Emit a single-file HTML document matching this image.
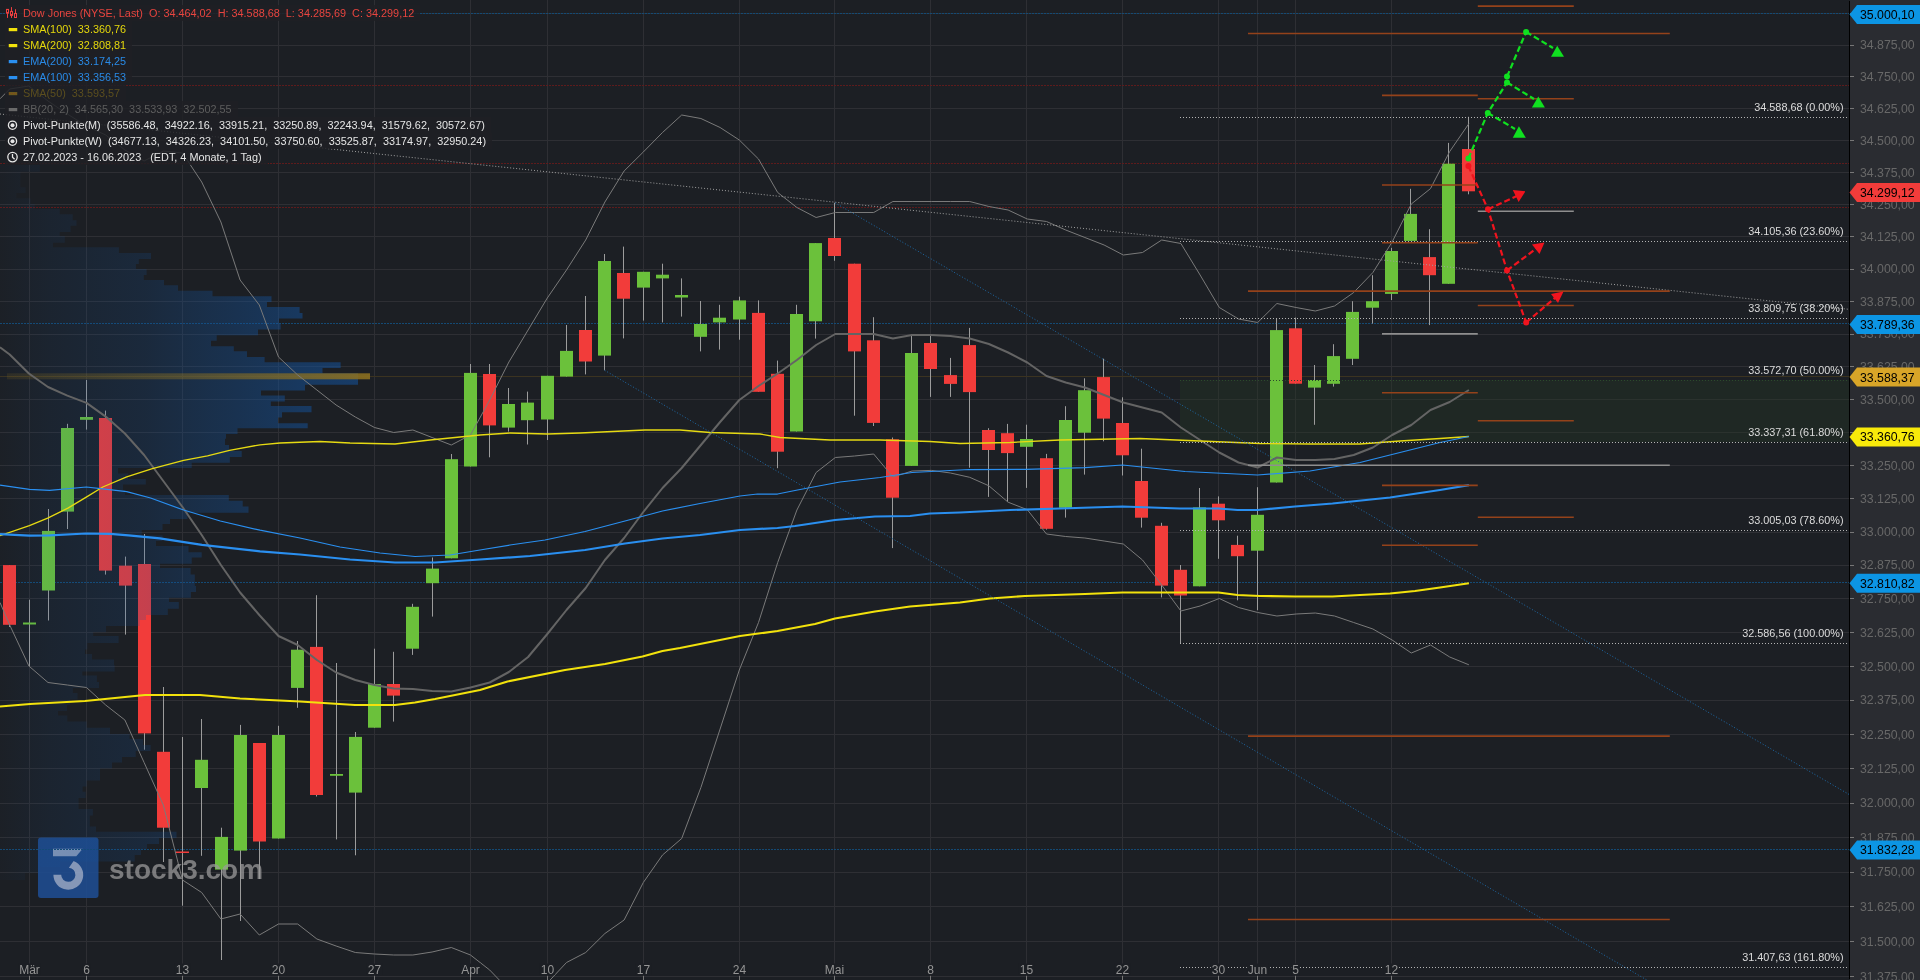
<!DOCTYPE html>
<html><head><meta charset="utf-8"><title>Dow Jones Chart</title>
<style>
html,body{margin:0;padding:0;background:#1c1f24;width:1920px;height:980px;overflow:hidden;}
#wrap{position:relative;width:1920px;height:980px;}
.row{position:absolute;left:5px;will-change:transform;height:16px;line-height:16px;font-family:"Liberation Sans",sans-serif;font-size:10.85px;white-space:pre;background:rgba(30,32,36,0.85);padding:0 6px 0 0;}
.row .ic{display:inline-block;width:18px;height:16px;vertical-align:top;position:relative;}
.row .ic svg{position:absolute;left:1px;top:0px;}
</style></head><body><div id="wrap">
<svg width="1920" height="980" viewBox="0 0 1920 980" style="display:block;position:absolute;left:0;top:0">
<defs>
<linearGradient id="vpg" gradientUnits="userSpaceOnUse" x1="0" y1="0" x2="372" y2="0"><stop offset="0" stop-color="#14529b" stop-opacity="0.02"/><stop offset="0.134" stop-color="#14529b" stop-opacity="0.1"/><stop offset="0.39" stop-color="#14529b" stop-opacity="0.2"/><stop offset="0.51" stop-color="#14529b" stop-opacity="0.29"/><stop offset="0.645" stop-color="#14529b" stop-opacity="0.38"/><stop offset="0.806" stop-color="#14529b" stop-opacity="0.5"/><stop offset="1" stop-color="#14529b" stop-opacity="0.58"/></linearGradient>
<linearGradient id="pocg" gradientUnits="userSpaceOnUse" x1="0" y1="0" x2="372" y2="0"><stop offset="0" stop-color="#8c7020" stop-opacity="0.15"/><stop offset="0.5" stop-color="#8c7020" stop-opacity="0.45"/><stop offset="1" stop-color="#8c7020" stop-opacity="0.9"/></linearGradient>
</defs>
<rect x="0" y="0" width="1920" height="980" fill="#1c1f24"/>
<rect x="1850" y="0" width="70" height="980" fill="#2a2c31"/>
<path d="M0 976.5H1849 M0 941.5H1849 M0 906.5H1849 M0 872.5H1849 M0 837.5H1849 M0 803.5H1849 M0 768.5H1849 M0 734.5H1849 M0 700.5H1849 M0 666.5H1849 M0 632.5H1849 M0 598.5H1849 M0 565.5H1849 M0 532.5H1849 M0 498.5H1849 M0 465.5H1849 M0 432.5H1849 M0 399.5H1849 M0 366.5H1849 M0 334.5H1849 M0 301.5H1849 M0 269.5H1849 M0 236.5H1849 M0 204.5H1849 M0 172.5H1849 M0 140.5H1849 M0 108.5H1849 M0 76.5H1849 M0 45.5H1849 M0 13.5H1849" stroke="#2e2f34" stroke-width="1" fill="none" shape-rendering="crispEdges"/>
<path d="M29.5 0V980 M86.5 0V980 M182.5 0V980 M278.5 0V980 M374.5 0V980 M470.5 0V980 M547.5 0V980 M643.5 0V980 M739.5 0V980 M834.5 0V980 M930.5 0V980 M1026.5 0V980 M1122.5 0V980 M1218.5 0V980 M1257.5 0V980 M1295.5 0V980 M1391.5 0V980" stroke="#2e2f34" stroke-width="1" fill="none" shape-rendering="crispEdges"/>
<rect x="1180" y="380" width="669" height="62" fill="#243a24" fill-opacity="0.35"/>
<g opacity="0.9">
<rect x="38" y="837.5" width="60.5" height="60.5" rx="3" fill="#1f4c8f"/>
<path d="M53 848.8 H82.7 L76.3 856.2 H53 Z" fill="#91a5c8"/>
<path d="M73.6 860.9 A14.9 14.9 0 1 1 53.4 874.8 L61.2 874.8 A7.1 7.1 0 1 0 68.9 867.7 Z" fill="#91a5c8"/>
</g>
<line x1="0" y1="85.5" x2="1849" y2="85.5" stroke="#5e1b1c" stroke-width="1" stroke-dasharray="2 1" shape-rendering="crispEdges"/>
<line x1="0" y1="163.5" x2="1849" y2="163.5" stroke="#5e1b1c" stroke-width="1" stroke-dasharray="2 1" shape-rendering="crispEdges"/>
<line x1="0" y1="207.5" x2="1849" y2="207.5" stroke="#5e1b1c" stroke-width="1" stroke-dasharray="2 1" shape-rendering="crispEdges"/>
<line x1="0" y1="13.5" x2="1849" y2="13.5" stroke="#144a74" stroke-width="1" stroke-dasharray="2 1" shape-rendering="crispEdges"/>
<line x1="0" y1="323.5" x2="1849" y2="323.5" stroke="#144a74" stroke-width="1" stroke-dasharray="2 1" shape-rendering="crispEdges"/>
<line x1="0" y1="582.5" x2="1849" y2="582.5" stroke="#144a74" stroke-width="1" stroke-dasharray="2 1" shape-rendering="crispEdges"/>
<line x1="0" y1="849.5" x2="1849" y2="849.5" stroke="#144a74" stroke-width="1" stroke-dasharray="2 1" shape-rendering="crispEdges"/>
<line x1="0" y1="376.5" x2="1849" y2="376.5" stroke="#3b3320" stroke-width="1" shape-rendering="crispEdges"/>
<path d="M9.5 565.0V627.0 M29.5 599.7V666.0 M48.5 509.0V620.5 M67.5 423.8V529.0 M86.5 380.0V429.6 M105.5 410.6V574.6 M125.5 556.6V634.6 M144.5 534.0V749.7 M163.5 687.0V862.0 M182.5 737.0V905.7 M201.5 719.0V855.8 M221.5 827.7V960.0 M240.5 724.9V921.0 M259.5 743.0V879.0 M278.5 725.8V838.5 M297.5 641.0V707.8 M316.5 595.2V796.5 M336.5 663.0V839.4 M355.5 732.0V855.3 M374.5 648.7V727.7 M393.5 651.8V721.6 M412.5 603.8V654.9 M432.5 557.5V616.6 M451.5 454.0V558.3 M470.5 364.0V466.5 M489.5 364.0V457.3 M508.5 388.0V431.6 M527.5 391.6V444.5 M547.5 375.8V440.0 M566.5 325.0V376.6 M585.5 296.0V374.4 M604.5 254.0V370.3 M623.5 246.6V338.4 M643.5 271.8V320.6 M662.5 263.7V322.4 M681.5 278.4V316.6 M700.5 301.0V351.4 M719.5 304.8V349.6 M739.5 296.7V339.7 M758.5 300.4V391.8 M777.5 360.6V468.2 M796.5 304.8V431.5 M815.5 243.1V338.6 M834.5 202.8V260.8 M854.5 263.7V415.7 M873.5 317.2V426.0 M892.5 437.5V548.1 M911.5 334.5V465.9 M930.5 334.5V396.9 M950.5 357.9V396.9 M969.5 327.9V467.7 M988.5 428.2V496.9 M1007.5 423.9V501.7 M1026.5 424.7V487.9 M1046.5 453.9V529.6 M1065.5 406.2V517.6 M1084.5 378.3V474.6 M1103.5 358.7V441.3 M1122.5 397.3V475.5 M1141.5 448.7V527.6 M1161.5 522.8V597.4 M1180.5 565.0V643.2 M1199.5 488.0V586.3 M1218.5 496.4V558.8 M1237.5 535.7V600.3 M1257.5 487.2V610.2 M1276.5 318.4V482.5 M1295.5 317.6V383.7 M1314.5 365.0V424.8 M1333.5 344.2V386.6 M1352.5 301.2V365.0 M1372.5 275.2V323.6 M1391.5 247.9V300.0 M1410.5 188.8V240.9 M1429.5 229.2V325.1 M1448.5 142.9V283.8 M1468.5 116.8V194.3" stroke="#9c9c9c" stroke-width="1" fill="none"/>
<rect x="3" y="565.1" width="13" height="59.7" fill="#f23c3a"/>
<rect x="23" y="622.5" width="13" height="2.0" fill="#6bc13b"/>
<rect x="42" y="530.9" width="13" height="59.6" fill="#6bc13b"/>
<rect x="61" y="428.0" width="13" height="83.6" fill="#6bc13b"/>
<rect x="80" y="417.0" width="13" height="2.8" fill="#6bc13b"/>
<rect x="99" y="418.0" width="13" height="152.6" fill="#f23c3a"/>
<rect x="119" y="565.7" width="13" height="19.9" fill="#f23c3a"/>
<rect x="138" y="564.0" width="13" height="169.4" fill="#f23c3a"/>
<rect x="157" y="751.8" width="13" height="75.9" fill="#f23c3a"/>
<rect x="176" y="851.5" width="13" height="1.5" fill="#f23c3a"/>
<rect x="195" y="759.8" width="13" height="28.2" fill="#6bc13b"/>
<rect x="215" y="836.9" width="13" height="32.7" fill="#6bc13b"/>
<rect x="234" y="735.0" width="13" height="115.6" fill="#6bc13b"/>
<rect x="253" y="743.0" width="13" height="98.5" fill="#f23c3a"/>
<rect x="272" y="735.0" width="13" height="103.5" fill="#6bc13b"/>
<rect x="291" y="649.7" width="13" height="38.2" fill="#6bc13b"/>
<rect x="310" y="646.9" width="13" height="148.1" fill="#f23c3a"/>
<rect x="330" y="774.0" width="13" height="1.8" fill="#6bc13b"/>
<rect x="349" y="736.9" width="13" height="55.7" fill="#6bc13b"/>
<rect x="368" y="684.0" width="13" height="43.7" fill="#6bc13b"/>
<rect x="387" y="684.0" width="13" height="11.6" fill="#f23c3a"/>
<rect x="406" y="606.8" width="13" height="41.9" fill="#6bc13b"/>
<rect x="426" y="568.6" width="13" height="14.6" fill="#6bc13b"/>
<rect x="445" y="459.2" width="13" height="99.1" fill="#6bc13b"/>
<rect x="464" y="372.9" width="13" height="93.6" fill="#6bc13b"/>
<rect x="483" y="374.0" width="13" height="51.4" fill="#f23c3a"/>
<rect x="502" y="404.0" width="13" height="23.6" fill="#6bc13b"/>
<rect x="521" y="402.6" width="13" height="17.6" fill="#6bc13b"/>
<rect x="541" y="375.8" width="13" height="43.7" fill="#6bc13b"/>
<rect x="560" y="350.9" width="13" height="25.7" fill="#6bc13b"/>
<rect x="579" y="330.0" width="13" height="31.5" fill="#f23c3a"/>
<rect x="598" y="261.0" width="13" height="94.6" fill="#6bc13b"/>
<rect x="617" y="273.0" width="13" height="25.7" fill="#f23c3a"/>
<rect x="637" y="271.8" width="13" height="15.8" fill="#6bc13b"/>
<rect x="656" y="274.7" width="13" height="3.7" fill="#6bc13b"/>
<rect x="675" y="295.0" width="13" height="2.5" fill="#6bc13b"/>
<rect x="694" y="324.0" width="13" height="12.8" fill="#6bc13b"/>
<rect x="713" y="317.7" width="13" height="4.7" fill="#6bc13b"/>
<rect x="733" y="300.4" width="13" height="19.1" fill="#6bc13b"/>
<rect x="752" y="312.9" width="13" height="78.9" fill="#f23c3a"/>
<rect x="771" y="373.8" width="13" height="77.9" fill="#f23c3a"/>
<rect x="790" y="314.0" width="13" height="117.5" fill="#6bc13b"/>
<rect x="809" y="243.1" width="13" height="78.2" fill="#6bc13b"/>
<rect x="828" y="238.0" width="13" height="18.0" fill="#f23c3a"/>
<rect x="848" y="263.7" width="13" height="87.7" fill="#f23c3a"/>
<rect x="867" y="340.3" width="13" height="82.6" fill="#f23c3a"/>
<rect x="886" y="439.3" width="13" height="58.4" fill="#f23c3a"/>
<rect x="905" y="353.0" width="13" height="112.9" fill="#6bc13b"/>
<rect x="924" y="343.0" width="13" height="26.0" fill="#f23c3a"/>
<rect x="944" y="375.1" width="13" height="8.8" fill="#f23c3a"/>
<rect x="963" y="345.1" width="13" height="47.0" fill="#f23c3a"/>
<rect x="982" y="430.0" width="13" height="20.0" fill="#f23c3a"/>
<rect x="1001" y="433.2" width="13" height="19.9" fill="#f23c3a"/>
<rect x="1020" y="439.0" width="13" height="7.8" fill="#6bc13b"/>
<rect x="1040" y="458.2" width="13" height="70.6" fill="#f23c3a"/>
<rect x="1059" y="420.0" width="13" height="87.8" fill="#6bc13b"/>
<rect x="1078" y="390.2" width="13" height="42.5" fill="#6bc13b"/>
<rect x="1097" y="377.1" width="13" height="41.5" fill="#f23c3a"/>
<rect x="1116" y="423.0" width="13" height="32.3" fill="#f23c3a"/>
<rect x="1135" y="481.0" width="13" height="36.7" fill="#f23c3a"/>
<rect x="1155" y="525.8" width="13" height="59.8" fill="#f23c3a"/>
<rect x="1174" y="569.8" width="13" height="25.7" fill="#f23c3a"/>
<rect x="1193" y="507.4" width="13" height="78.9" fill="#6bc13b"/>
<rect x="1212" y="503.7" width="13" height="16.6" fill="#f23c3a"/>
<rect x="1231" y="544.9" width="13" height="11.3" fill="#f23c3a"/>
<rect x="1251" y="514.8" width="13" height="35.9" fill="#6bc13b"/>
<rect x="1270" y="330.1" width="13" height="152.4" fill="#6bc13b"/>
<rect x="1289" y="328.3" width="13" height="55.4" fill="#f23c3a"/>
<rect x="1308" y="380.0" width="13" height="7.6" fill="#6bc13b"/>
<rect x="1327" y="356.1" width="13" height="27.7" fill="#6bc13b"/>
<rect x="1346" y="311.9" width="13" height="46.9" fill="#6bc13b"/>
<rect x="1366" y="301.2" width="13" height="6.5" fill="#6bc13b"/>
<rect x="1385" y="251.0" width="13" height="42.9" fill="#6bc13b"/>
<rect x="1404" y="213.9" width="13" height="27.0" fill="#6bc13b"/>
<rect x="1423" y="257.1" width="13" height="18.1" fill="#f23c3a"/>
<rect x="1442" y="163.7" width="13" height="120.1" fill="#6bc13b"/>
<rect x="1462" y="149.0" width="13" height="42.3" fill="#f23c3a"/>
<path d="M0 165.00H39.8V171.70H0Z M0 171.70H20.4V187.30H0Z M0 187.30H25.5V193.00H0Z M0 193.00H16.3V198.30H0Z M0 198.30H30.6V204.00H0Z M0 204.00H34.7V209.00H0Z M0 209.00H59.7V214.30H0Z M0 214.30H72.7V220.20H0Z M0 220.20H76.5V225.80H0Z M0 225.80H70.6V232.00H0Z M0 232.00H59.7V236.00H0Z M0 236.00H64.8V242.70H0Z M0 242.70H53.0V247.20H0Z M0 247.20H118.9V252.90H0Z M0 252.90H151.0V259.00H0Z M0 259.00H138.8V264.00H0Z M0 264.00H135.9V269.00H0Z M0 269.00H146.6V275.00H0Z M0 275.00H143.8V280.00H0Z M0 280.00H164.0V285.20H0Z M0 285.20H178.0V290.80H0Z M0 290.80H212.5V296.25H0Z M0 296.25H271.5V301.90H0Z M0 301.90H267.0V307.00H0Z M0 307.00H299.6V312.90H0Z M0 312.90H302.5V318.50H0Z M0 318.50H279.0V323.75H0Z M0 323.75H280.6V329.60H0Z M0 329.60H258.0V335.20H0Z M0 335.20H216.7V340.80H0Z M0 340.80H211.0V346.25H0Z M0 346.25H233.8V351.25H0Z M0 351.25H247.0V357.00H0Z M0 357.00H264.6V362.30H0Z M0 362.30H340.6V367.90H0Z M0 367.90H322.5V373.30H0Z M0 373.30H358.0V379.60H0Z M0 379.60H358.0V384.80H0Z M0 384.80H305.0V390.40H0Z M0 390.40H261.0V395.60H0Z M0 395.60H284.8V401.50H0Z M0 401.50H270.8V406.00H0Z M0 406.00H311.5V412.30H0Z M0 412.30H282.0V417.50H0Z M0 417.50H278.0V423.30H0Z M0 423.30H307.7V428.30H0Z M0 428.30H237.5V434.00H0Z M0 434.00H226.0V438.75H0Z M0 438.75H225.0V445.00H0Z M0 445.00H229.0V451.00H0Z M0 451.00H241.7V457.00H0Z M0 457.00H229.8V462.70H0Z M0 462.70H191.7V468.00H0Z M0 468.00H118.0V473.50H0Z M0 473.50H128.0V479.00H0Z M0 479.00H145.8V484.60H0Z M0 484.60H123.0V490.00H0Z M0 490.00H125.0V495.00H0Z M0 495.00H228.8V500.80H0Z M0 500.80H242.7V506.50H0Z M0 506.50H248.5V512.70H0Z M0 512.70H187.5V519.00H0Z M0 519.00H170.0V524.00H0Z M0 524.00H162.5V530.00H0Z M0 530.00H141.7V535.60H0Z M0 535.60H162.5V541.00H0Z M0 541.00H156.0V546.00H0Z M0 546.00H188.5V552.30H0Z M0 552.30H201.7V557.50H0Z M0 557.50H191.7V563.80H0Z M0 563.80H160.0V568.00H0Z M0 568.00H190.6V574.60H0Z M0 574.60H194.8V581.00H0Z M0 581.00H194.8V586.00H0Z M0 586.00H196.0V592.00H0Z M0 592.00H190.9V597.80H0Z M0 597.80H169.0V602.10H0Z M0 602.10H178.8V608.75H0Z M0 608.75H167.8V615.00H0Z M0 615.00H146.0V620.00H0Z M0 620.00H139.7V626.00H0Z M0 626.00H106.0V632.20H0Z M0 632.20H93.2V636.10H0Z M0 636.10H118.6V643.10H0Z M0 643.10H87.3V649.40H0Z M0 649.40H85.0V654.00H0Z M0 654.00H92.0V659.60H0Z M0 659.60H114.0V665.20H0Z M0 665.20H114.6V671.50H0Z M0 671.50H82.3V675.60H0Z M0 675.60H96.9V681.90H0Z M0 681.90H99.0V688.00H0Z M0 688.00H72.9V693.00H0Z M0 693.00H77.5V699.60H0Z M0 699.60H70.0V705.00H0Z M0 705.00H67.0V711.00H0Z M0 711.00H58.0V715.50H0Z M0 715.50H67.3V721.60H0Z M0 721.60H86.7V727.80H0Z M0 727.80H110.0V734.00H0Z M0 734.00H129.6V739.00H0Z M0 739.00H143.0V745.00H0Z M0 745.00H150.6V751.00H0Z M0 751.00H135.7V757.00H0Z M0 757.00H122.0V762.40H0Z M0 762.40H112.0V768.60H0Z M0 768.60H100.0V774.70H0Z M0 774.70H100.0V780.50H0Z M0 780.50H86.7V786.60H0Z M0 786.60H82.6V791.80H0Z M0 791.80H85.7V797.90H0Z M0 797.90H78.6V803.00H0Z M0 803.00H78.6V809.00H0Z M0 809.00H92.9V815.40H0Z M0 815.40H89.8V821.50H0Z M0 821.50H89.8V826.60H0Z M0 826.60H96.0V831.80H0Z M0 831.80H176.5V838.00H0Z M0 838.00H159.0V844.00H0Z M0 844.00H147.0V849.20H0Z M0 849.20H141.0V855.00H0Z M0 855.00H134.7V861.40H0Z M0 861.40H60.0V867.00H0Z M0 867.00H40.0V873.00H0Z M0 873.00H25.0V880.00H0Z" fill="url(#vpg)"/>
<rect x="7" y="373.3" width="363" height="6" fill="url(#pocg)"/>
<polyline points="0.0,98.8 9.7,89.0 28.9,86.0 48.0,101.0 67.3,114.0 86.5,126.0 105.7,135.0 124.9,150.0 144.1,161.0 163.3,151.0 182.5,153.0 201.7,182.0 220.9,222.0 240.1,280.0 259.3,305.0 278.5,357.0 297.7,375.0 316.9,390.0 336.1,405.0 355.3,417.0 374.5,427.5 393.7,432.5 412.9,430.0 432.1,437.5 451.3,445.0 470.5,435.0 489.7,400.0 508.9,362.0 528.1,330.0 547.3,298.0 566.5,270.0 585.7,240.0 604.9,202.0 624.1,171.0 643.3,152.0 662.5,132.5 681.7,115.0 700.9,118.5 720.1,127.5 739.3,140.0 758.5,159.0 777.7,192.5 796.9,207.5 816.1,217.5 835.3,212.5 854.5,212.5 873.7,212.5 892.9,201.5 912.1,201.5 931.3,201.5 950.5,201.5 969.7,201.5 988.9,206.5 1008.1,210.0 1027.3,219.0 1046.5,221.5 1065.7,230.0 1084.9,237.5 1104.1,245.0 1123.3,255.0 1142.5,252.5 1161.7,240.0 1180.9,243.5 1200.1,275.0 1219.3,307.5 1238.5,319.0 1257.7,322.5 1276.9,303.5 1296.1,307.5 1315.3,311.0 1334.5,306.0 1353.7,292.5 1372.9,272.5 1392.1,242.0 1411.3,204.0 1430.5,188.6 1449.7,151.5 1468.9,123.6" fill="none" stroke="#7a7a7a" stroke-width="1" stroke-linejoin="round"/>
<polyline points="0.0,602.5 9.7,625.0 28.9,666.0 48.0,682.5 67.3,685.0 86.5,687.5 105.7,705.0 124.9,720.0 144.1,762.5 163.3,805.0 182.5,880.0 201.7,892.5 220.9,919.0 240.1,914.0 259.3,935.0 278.5,924.0 297.7,924.0 316.9,939.0 336.1,946.0 355.3,952.5 374.5,954.0 393.7,955.0 412.9,955.0 432.1,952.0 451.3,947.5 470.5,955.0 489.7,970.0 508.9,990.0 528.1,1000.0 547.3,983.0 566.5,962.5 585.7,952.5 604.9,933.5 624.1,920.0 643.3,882.5 662.5,855.0 681.7,838.5 700.9,787.5 720.1,729.0 739.3,670.0 758.5,622.5 777.7,562.5 796.9,510.0 816.1,472.5 835.3,457.5 854.5,456.0 873.7,454.0 892.9,477.0 912.1,471.0 931.3,470.4 950.5,473.0 969.7,477.3 988.9,485.8 1008.1,502.2 1027.3,509.7 1046.5,534.0 1065.7,536.5 1084.9,538.0 1104.1,541.0 1123.3,544.0 1142.5,560.0 1161.7,585.0 1180.9,611.0 1200.1,606.0 1219.3,598.5 1238.5,607.5 1257.7,612.5 1276.9,616.0 1296.1,614.0 1315.3,613.0 1334.5,616.0 1353.7,622.5 1372.9,629.0 1392.1,640.0 1411.3,653.0 1430.5,645.0 1449.7,657.0 1468.9,664.8" fill="none" stroke="#7a7a7a" stroke-width="1" stroke-linejoin="round"/>
<polyline points="0.0,347.3 9.7,354.5 28.9,373.5 48.0,387.0 67.3,395.6 86.5,402.9 105.7,416.6 124.9,433.5 144.1,455.0 163.3,481.0 182.5,507.0 201.7,535.0 220.9,565.0 240.1,592.5 259.3,615.0 278.5,636.0 297.7,645.0 316.9,660.0 336.1,672.5 355.3,680.0 374.5,685.0 393.7,688.5 412.9,689.0 432.1,691.0 451.3,691.5 470.5,687.5 489.7,682.5 508.9,672.0 528.1,657.0 547.3,634.0 566.5,610.0 585.7,588.0 604.9,560.0 624.1,538.0 643.3,512.0 662.5,488.0 681.7,468.0 700.9,445.0 720.1,422.0 739.3,400.0 758.5,386.0 777.7,373.5 796.9,360.0 816.1,345.0 835.3,334.0 854.5,334.0 873.7,334.0 892.9,338.5 912.1,335.0 931.3,335.0 950.5,336.0 969.7,338.5 988.9,344.0 1008.1,352.5 1027.3,362.5 1046.5,376.0 1065.7,382.5 1084.9,387.5 1104.1,395.0 1123.3,402.5 1142.5,407.5 1161.7,412.5 1180.9,427.5 1200.1,440.0 1219.3,452.5 1238.5,462.5 1257.7,467.5 1276.9,457.5 1296.1,460.0 1315.3,460.0 1334.5,459.0 1353.7,455.0 1372.9,447.5 1392.1,435.0 1411.3,425.0 1430.5,410.0 1449.7,402.0 1468.9,390.0" fill="none" stroke="#646464" stroke-width="2" stroke-linejoin="round"/>
<polyline points="0.0,706.5 30.0,704.0 85.0,701.0 145.0,695.0 200.0,695.0 240.0,698.5 300.0,701.5 355.0,705.0 395.0,705.0 415.0,702.5 435.0,699.0 480.0,690.0 507.5,681.5 565.0,670.0 605.0,664.0 642.5,656.5 662.5,651.0 680.0,648.0 720.0,640.0 740.0,636.0 777.5,631.0 815.0,624.0 835.0,618.5 875.0,611.5 910.0,606.5 960.0,602.5 990.0,598.5 1025.0,596.0 1085.0,594.0 1122.5,592.5 1180.0,592.5 1218.5,592.5 1237.5,595.0 1260.0,596.0 1295.0,596.5 1332.5,596.5 1360.0,595.0 1390.0,593.5 1415.0,591.0 1440.0,587.5 1468.9,583.3" fill="none" stroke="#f2e20c" stroke-width="2.1" stroke-linejoin="round"/>
<polyline points="0.0,535.7 29.4,525.6 47.7,518.2 67.9,508.1 86.3,497.1 102.8,487.0 126.7,476.9 152.4,468.7 183.6,460.4 207.5,455.8 229.5,450.3 260.0,444.8 280.0,443.0 320.0,441.5 350.0,443.0 395.0,444.0 430.0,440.0 480.0,435.0 510.0,433.0 547.5,434.0 580.0,433.0 645.0,430.0 680.0,430.0 710.0,432.5 760.0,434.0 780.0,437.5 830.0,440.0 880.0,440.0 930.0,441.5 960.0,443.5 1010.0,442.5 1060.0,440.0 1140.0,438.5 1200.0,441.0 1260.0,443.5 1310.0,444.0 1360.0,444.0 1400.0,441.0 1440.0,438.5 1468.9,436.5" fill="none" stroke="#e6da12" stroke-width="1.3" stroke-linejoin="round"/>
<polyline points="0.0,534.2 29.4,535.7 49.6,535.3 86.3,533.5 110.2,533.8 128.5,535.3 159.8,538.4 202.0,544.9 260.0,551.3 300.0,554.5 350.0,559.5 395.0,562.5 435.0,562.5 480.0,559.5 530.0,556.0 585.0,550.0 625.0,543.5 662.5,538.5 700.0,535.0 740.0,530.0 777.5,528.0 795.0,526.0 835.0,520.0 875.0,516.5 910.0,516.0 930.0,513.5 960.0,512.5 1010.0,510.0 1060.0,508.5 1122.5,506.5 1180.0,508.5 1218.5,508.5 1237.5,510.0 1257.5,510.0 1295.0,506.5 1332.5,503.5 1390.0,497.5 1440.0,490.0 1468.9,485.2" fill="none" stroke="#2a8ff0" stroke-width="2.2" stroke-linejoin="round"/>
<polyline points="0.0,485.2 29.4,489.4 49.6,490.3 86.3,487.0 102.8,488.9 126.7,491.6 150.6,498.0 183.6,510.0 220.3,521.0 260.0,530.2 300.0,538.0 340.0,547.0 380.0,553.0 415.0,556.5 450.0,555.0 480.0,550.0 510.0,545.0 545.0,540.0 585.0,531.5 625.0,521.0 662.5,511.0 700.0,503.5 740.0,496.0 757.5,494.0 777.5,494.0 797.5,490.0 840.0,482.0 880.0,477.5 912.0,472.5 969.0,469.5 1026.0,469.3 1085.0,467.7 1122.5,465.0 1185.0,471.5 1257.5,475.0 1310.0,471.0 1360.0,462.5 1400.0,452.5 1440.0,442.5 1468.9,436.5" fill="none" stroke="#2a8ff0" stroke-width="1.25" stroke-linejoin="round"/>
<line x1="0" y1="114" x2="1849" y2="309.3" stroke="#a0a0a0" stroke-width="1" stroke-dasharray="1 2"/>
<line x1="604.6" y1="370.3" x2="1646.8" y2="980" stroke="#1d6aa8" stroke-width="1" stroke-dasharray="1 2"/>
<line x1="835" y1="202.8" x2="1849" y2="794.4" stroke="#1d6aa8" stroke-width="1" stroke-dasharray="1 2"/>
<line x1="1248" y1="33.45" x2="1669.8" y2="33.45" stroke="#94421a" stroke-width="1.6"/>
<line x1="1248" y1="291.1" x2="1669.8" y2="291.1" stroke="#94421a" stroke-width="1.6"/>
<line x1="1248" y1="465.3" x2="1669.8" y2="465.3" stroke="#8e8e8e" stroke-width="1.6"/>
<line x1="1248" y1="736.1" x2="1669.8" y2="736.1" stroke="#94421a" stroke-width="1.6"/>
<line x1="1248" y1="919.45" x2="1669.8" y2="919.45" stroke="#94421a" stroke-width="1.6"/>
<line x1="1382" y1="95.4" x2="1477.8" y2="95.4" stroke="#94421a" stroke-width="1.6"/>
<line x1="1382" y1="185.0" x2="1477.8" y2="185.0" stroke="#94421a" stroke-width="1.6"/>
<line x1="1382" y1="242.8" x2="1477.8" y2="242.8" stroke="#94421a" stroke-width="1.6"/>
<line x1="1382" y1="333.9" x2="1477.8" y2="333.9" stroke="#8e8e8e" stroke-width="1.6"/>
<line x1="1382" y1="392.8" x2="1477.8" y2="392.8" stroke="#94421a" stroke-width="1.6"/>
<line x1="1382" y1="485.4" x2="1477.8" y2="485.4" stroke="#94421a" stroke-width="1.6"/>
<line x1="1382" y1="545.3" x2="1477.8" y2="545.3" stroke="#94421a" stroke-width="1.6"/>
<line x1="1477.8" y1="6.1" x2="1573.8" y2="6.1" stroke="#94421a" stroke-width="1.6"/>
<line x1="1477.8" y1="98.7" x2="1573.8" y2="98.7" stroke="#94421a" stroke-width="1.6"/>
<line x1="1477.8" y1="211.2" x2="1573.8" y2="211.2" stroke="#8e8e8e" stroke-width="1.6"/>
<line x1="1477.8" y1="305.5" x2="1573.8" y2="305.5" stroke="#94421a" stroke-width="1.6"/>
<line x1="1477.8" y1="420.75" x2="1573.8" y2="420.75" stroke="#94421a" stroke-width="1.6"/>
<line x1="1477.8" y1="517.2" x2="1573.8" y2="517.2" stroke="#94421a" stroke-width="1.6"/>
<line x1="1180" y1="117.5" x2="1849" y2="117.5" stroke="#b4b4b4" stroke-width="1" stroke-dasharray="1 2" shape-rendering="crispEdges"/>
<line x1="1180" y1="241.5" x2="1849" y2="241.5" stroke="#b4b4b4" stroke-width="1" stroke-dasharray="1 2" shape-rendering="crispEdges"/>
<line x1="1180" y1="318.5" x2="1849" y2="318.5" stroke="#b4b4b4" stroke-width="1" stroke-dasharray="1 2" shape-rendering="crispEdges"/>
<line x1="1180" y1="380.5" x2="1849" y2="380.5" stroke="#2c4a2c" stroke-width="1" stroke-dasharray="1 2" shape-rendering="crispEdges"/>
<line x1="1180" y1="442.5" x2="1849" y2="442.5" stroke="#b4b4b4" stroke-width="1" stroke-dasharray="1 2" shape-rendering="crispEdges"/>
<line x1="1180" y1="530.5" x2="1849" y2="530.5" stroke="#b4b4b4" stroke-width="1" stroke-dasharray="1 2" shape-rendering="crispEdges"/>
<line x1="1180" y1="643.5" x2="1849" y2="643.5" stroke="#b4b4b4" stroke-width="1" stroke-dasharray="1 2" shape-rendering="crispEdges"/>
<line x1="1180" y1="967.5" x2="1849" y2="967.5" stroke="#b4b4b4" stroke-width="1" stroke-dasharray="1 2" shape-rendering="crispEdges"/>
<polyline points="1468.4,158.5 1487.8,112.9 1507.0,82.4" fill="none" stroke="#10e020" stroke-width="2.2" stroke-dasharray="6 3"/>
<polyline points="1507.0,76.6 1526.1,31.9" fill="none" stroke="#10e020" stroke-width="2.2" stroke-dasharray="6 3"/>
<polyline points="1487.8,112.9 1515.0,129.0" fill="none" stroke="#10e020" stroke-width="2.2" stroke-dasharray="6 3"/>
<polyline points="1507.0,82.4 1534.0,99.0" fill="none" stroke="#10e020" stroke-width="2.2" stroke-dasharray="6 3"/>
<polyline points="1526.1,31.9 1553.0,48.0" fill="none" stroke="#10e020" stroke-width="2.2" stroke-dasharray="6 3"/>
<circle cx="1468.4" cy="158.5" r="3" fill="#10e020"/>
<circle cx="1487.8" cy="112.9" r="3" fill="#10e020"/>
<circle cx="1507" cy="82.4" r="3" fill="#10e020"/>
<circle cx="1507" cy="76.6" r="3" fill="#10e020"/>
<circle cx="1526.1" cy="31.9" r="3" fill="#10e020"/>
<polygon points="1518.9,126.3 1512.8,137.8 1525.8,137.8" fill="#10e020"/>
<polygon points="1538.3,96.5 1531.9,107.5 1544.9,107.5" fill="#10e020"/>
<polygon points="1557.2,45.7 1551.0,56.7 1564.0,56.7" fill="#10e020"/>
<polyline points="1468.4,166.1 1488.0,209.3 1507.0,270.5 1526.2,322.5" fill="none" stroke="#f0141e" stroke-width="2.2" stroke-dasharray="6 3"/>
<polyline points="1488.0,209.3 1519.0,195.0" fill="none" stroke="#f0141e" stroke-width="2.2" stroke-dasharray="6 3"/>
<polyline points="1507.0,270.5 1537.0,248.0" fill="none" stroke="#f0141e" stroke-width="2.2" stroke-dasharray="6 3"/>
<polyline points="1526.2,322.5 1556.0,297.0" fill="none" stroke="#f0141e" stroke-width="2.2" stroke-dasharray="6 3"/>
<circle cx="1468.4" cy="166.1" r="3" fill="#f0141e"/>
<circle cx="1488" cy="209.3" r="3" fill="#f0141e"/>
<circle cx="1507" cy="270.5" r="3" fill="#f0141e"/>
<circle cx="1526.2" cy="322.5" r="3" fill="#f0141e"/>
<polygon points="1512.8,190.0 1525.5,191.3 1518.6,202.0" fill="#f0141e"/>
<polygon points="1532.0,244.5 1544.5,242.5 1539.5,254.0" fill="#f0141e"/>
<polygon points="1551.0,294.0 1563.5,291.5 1558.0,303.0" fill="#f0141e"/>
<rect x="18.1" y="963.5" width="22.7" height="11.5" fill="#1c1f24"/>
<line x1="29.5" y1="976" x2="29.5" y2="980" stroke="#777" stroke-width="1" shape-rendering="crispEdges"/>
<rect x="82.2" y="963.5" width="8.7" height="11.5" fill="#1c1f24"/>
<line x1="86.5" y1="976" x2="86.5" y2="980" stroke="#777" stroke-width="1" shape-rendering="crispEdges"/>
<rect x="174.8" y="963.5" width="15.3" height="11.5" fill="#1c1f24"/>
<line x1="182.5" y1="976" x2="182.5" y2="980" stroke="#777" stroke-width="1" shape-rendering="crispEdges"/>
<rect x="270.8" y="963.5" width="15.3" height="11.5" fill="#1c1f24"/>
<line x1="278.5" y1="976" x2="278.5" y2="980" stroke="#777" stroke-width="1" shape-rendering="crispEdges"/>
<rect x="366.8" y="963.5" width="15.3" height="11.5" fill="#1c1f24"/>
<line x1="374.5" y1="976" x2="374.5" y2="980" stroke="#777" stroke-width="1" shape-rendering="crispEdges"/>
<rect x="460.1" y="963.5" width="20.7" height="11.5" fill="#1c1f24"/>
<line x1="470.5" y1="976" x2="470.5" y2="980" stroke="#777" stroke-width="1" shape-rendering="crispEdges"/>
<rect x="539.8" y="963.5" width="15.3" height="11.5" fill="#1c1f24"/>
<line x1="547.5" y1="976" x2="547.5" y2="980" stroke="#777" stroke-width="1" shape-rendering="crispEdges"/>
<rect x="635.8" y="963.5" width="15.3" height="11.5" fill="#1c1f24"/>
<line x1="643.5" y1="976" x2="643.5" y2="980" stroke="#777" stroke-width="1" shape-rendering="crispEdges"/>
<rect x="731.8" y="963.5" width="15.3" height="11.5" fill="#1c1f24"/>
<line x1="739.5" y1="976" x2="739.5" y2="980" stroke="#777" stroke-width="1" shape-rendering="crispEdges"/>
<rect x="823.9" y="963.5" width="21.3" height="11.5" fill="#1c1f24"/>
<line x1="834.5" y1="976" x2="834.5" y2="980" stroke="#777" stroke-width="1" shape-rendering="crispEdges"/>
<rect x="926.2" y="963.5" width="8.7" height="11.5" fill="#1c1f24"/>
<line x1="930.5" y1="976" x2="930.5" y2="980" stroke="#777" stroke-width="1" shape-rendering="crispEdges"/>
<rect x="1018.8" y="963.5" width="15.3" height="11.5" fill="#1c1f24"/>
<line x1="1026.5" y1="976" x2="1026.5" y2="980" stroke="#777" stroke-width="1" shape-rendering="crispEdges"/>
<rect x="1114.8" y="963.5" width="15.3" height="11.5" fill="#1c1f24"/>
<line x1="1122.5" y1="976" x2="1122.5" y2="980" stroke="#777" stroke-width="1" shape-rendering="crispEdges"/>
<rect x="1210.8" y="963.5" width="15.3" height="11.5" fill="#1c1f24"/>
<line x1="1218.5" y1="976" x2="1218.5" y2="980" stroke="#777" stroke-width="1" shape-rendering="crispEdges"/>
<rect x="1246.8" y="963.5" width="21.3" height="11.5" fill="#1c1f24"/>
<line x1="1257.5" y1="976" x2="1257.5" y2="980" stroke="#777" stroke-width="1" shape-rendering="crispEdges"/>
<rect x="1291.2" y="963.5" width="8.7" height="11.5" fill="#1c1f24"/>
<line x1="1295.5" y1="976" x2="1295.5" y2="980" stroke="#777" stroke-width="1" shape-rendering="crispEdges"/>
<rect x="1383.8" y="963.5" width="15.3" height="11.5" fill="#1c1f24"/>
<line x1="1391.5" y1="976" x2="1391.5" y2="980" stroke="#777" stroke-width="1" shape-rendering="crispEdges"/>
<line x1="1849.5" y1="1" x2="1849.5" y2="979" stroke="#000" stroke-width="1" shape-rendering="crispEdges"/>
<path d="M1850 976.5H1854 M1850 941.5H1854 M1850 906.5H1854 M1850 872.5H1854 M1850 837.5H1854 M1850 803.5H1854 M1850 768.5H1854 M1850 734.5H1854 M1850 700.5H1854 M1850 666.5H1854 M1850 632.5H1854 M1850 598.5H1854 M1850 565.5H1854 M1850 532.5H1854 M1850 498.5H1854 M1850 465.5H1854 M1850 432.5H1854 M1850 399.5H1854 M1850 366.5H1854 M1850 334.5H1854 M1850 301.5H1854 M1850 269.5H1854 M1850 236.5H1854 M1850 204.5H1854 M1850 172.5H1854 M1850 140.5H1854 M1850 108.5H1854 M1850 76.5H1854 M1850 45.5H1854 M1850 13.5H1854" stroke="#777" stroke-width="1" shape-rendering="crispEdges"/>
</svg>
<svg width="1920" height="980" viewBox="0 0 1920 980" style="display:block;position:absolute;left:0;top:0;will-change:transform"><text x="1843.5" y="110.7" text-anchor="end" font-family="Liberation Sans" font-size="10.85" fill="#dcdcdc">34.588,68 (0.00%)</text>
<text x="1843.5" y="234.7" text-anchor="end" font-family="Liberation Sans" font-size="10.85" fill="#dcdcdc">34.105,36 (23.60%)</text>
<text x="1843.5" y="311.7" text-anchor="end" font-family="Liberation Sans" font-size="10.85" fill="#dcdcdc">33.809,75 (38.20%)</text>
<text x="1843.5" y="373.7" text-anchor="end" font-family="Liberation Sans" font-size="10.85" fill="#dcdcdc">33.572,70 (50.00%)</text>
<text x="1843.5" y="435.7" text-anchor="end" font-family="Liberation Sans" font-size="10.85" fill="#dcdcdc">33.337,31 (61.80%)</text>
<text x="1843.5" y="523.7" text-anchor="end" font-family="Liberation Sans" font-size="10.85" fill="#dcdcdc">33.005,03 (78.60%)</text>
<text x="1843.5" y="636.7" text-anchor="end" font-family="Liberation Sans" font-size="10.85" fill="#dcdcdc">32.586,56 (100.00%)</text>
<text x="1843.5" y="960.7" text-anchor="end" font-family="Liberation Sans" font-size="10.85" fill="#dcdcdc">31.407,63 (161.80%)</text>
<text x="29.5" y="973.6" text-anchor="middle" font-family="Liberation Sans" font-size="12" fill="#959595">Mär</text>
<text x="86.5" y="973.6" text-anchor="middle" font-family="Liberation Sans" font-size="12" fill="#959595">6</text>
<text x="182.5" y="973.6" text-anchor="middle" font-family="Liberation Sans" font-size="12" fill="#959595">13</text>
<text x="278.5" y="973.6" text-anchor="middle" font-family="Liberation Sans" font-size="12" fill="#959595">20</text>
<text x="374.5" y="973.6" text-anchor="middle" font-family="Liberation Sans" font-size="12" fill="#959595">27</text>
<text x="470.5" y="973.6" text-anchor="middle" font-family="Liberation Sans" font-size="12" fill="#959595">Apr</text>
<text x="547.5" y="973.6" text-anchor="middle" font-family="Liberation Sans" font-size="12" fill="#959595">10</text>
<text x="643.5" y="973.6" text-anchor="middle" font-family="Liberation Sans" font-size="12" fill="#959595">17</text>
<text x="739.5" y="973.6" text-anchor="middle" font-family="Liberation Sans" font-size="12" fill="#959595">24</text>
<text x="834.5" y="973.6" text-anchor="middle" font-family="Liberation Sans" font-size="12" fill="#959595">Mai</text>
<text x="930.5" y="973.6" text-anchor="middle" font-family="Liberation Sans" font-size="12" fill="#959595">8</text>
<text x="1026.5" y="973.6" text-anchor="middle" font-family="Liberation Sans" font-size="12" fill="#959595">15</text>
<text x="1122.5" y="973.6" text-anchor="middle" font-family="Liberation Sans" font-size="12" fill="#959595">22</text>
<text x="1218.5" y="973.6" text-anchor="middle" font-family="Liberation Sans" font-size="12" fill="#959595">30</text>
<text x="1257.5" y="973.6" text-anchor="middle" font-family="Liberation Sans" font-size="12" fill="#959595">Jun</text>
<text x="1295.5" y="973.6" text-anchor="middle" font-family="Liberation Sans" font-size="12" fill="#959595">5</text>
<text x="1391.5" y="973.6" text-anchor="middle" font-family="Liberation Sans" font-size="12" fill="#959595">12</text>
<text x="1860" y="980.7" font-family="Liberation Sans" font-size="12.3" fill="#686868">31.375,00</text>
<text x="1860" y="945.7" font-family="Liberation Sans" font-size="12.3" fill="#686868">31.500,00</text>
<text x="1860" y="910.8" font-family="Liberation Sans" font-size="12.3" fill="#686868">31.625,00</text>
<text x="1860" y="876.1" font-family="Liberation Sans" font-size="12.3" fill="#686868">31.750,00</text>
<text x="1860" y="841.5" font-family="Liberation Sans" font-size="12.3" fill="#686868">31.875,00</text>
<text x="1860" y="807.0" font-family="Liberation Sans" font-size="12.3" fill="#686868">32.000,00</text>
<text x="1860" y="772.7" font-family="Liberation Sans" font-size="12.3" fill="#686868">32.125,00</text>
<text x="1860" y="738.5" font-family="Liberation Sans" font-size="12.3" fill="#686868">32.250,00</text>
<text x="1860" y="704.4" font-family="Liberation Sans" font-size="12.3" fill="#686868">32.375,00</text>
<text x="1860" y="670.5" font-family="Liberation Sans" font-size="12.3" fill="#686868">32.500,00</text>
<text x="1860" y="636.7" font-family="Liberation Sans" font-size="12.3" fill="#686868">32.625,00</text>
<text x="1860" y="603.0" font-family="Liberation Sans" font-size="12.3" fill="#686868">32.750,00</text>
<text x="1860" y="569.4" font-family="Liberation Sans" font-size="12.3" fill="#686868">32.875,00</text>
<text x="1860" y="536.0" font-family="Liberation Sans" font-size="12.3" fill="#686868">33.000,00</text>
<text x="1860" y="502.7" font-family="Liberation Sans" font-size="12.3" fill="#686868">33.125,00</text>
<text x="1860" y="469.5" font-family="Liberation Sans" font-size="12.3" fill="#686868">33.250,00</text>
<text x="1860" y="436.5" font-family="Liberation Sans" font-size="12.3" fill="#686868">33.375,00</text>
<text x="1860" y="403.6" font-family="Liberation Sans" font-size="12.3" fill="#686868">33.500,00</text>
<text x="1860" y="370.8" font-family="Liberation Sans" font-size="12.3" fill="#686868">33.625,00</text>
<text x="1860" y="338.1" font-family="Liberation Sans" font-size="12.3" fill="#686868">33.750,00</text>
<text x="1860" y="305.6" font-family="Liberation Sans" font-size="12.3" fill="#686868">33.875,00</text>
<text x="1860" y="273.1" font-family="Liberation Sans" font-size="12.3" fill="#686868">34.000,00</text>
<text x="1860" y="240.8" font-family="Liberation Sans" font-size="12.3" fill="#686868">34.125,00</text>
<text x="1860" y="208.6" font-family="Liberation Sans" font-size="12.3" fill="#686868">34.250,00</text>
<text x="1860" y="176.5" font-family="Liberation Sans" font-size="12.3" fill="#686868">34.375,00</text>
<text x="1860" y="144.6" font-family="Liberation Sans" font-size="12.3" fill="#686868">34.500,00</text>
<text x="1860" y="112.7" font-family="Liberation Sans" font-size="12.3" fill="#686868">34.625,00</text>
<text x="1860" y="81.0" font-family="Liberation Sans" font-size="12.3" fill="#686868">34.750,00</text>
<text x="1860" y="49.4" font-family="Liberation Sans" font-size="12.3" fill="#686868">34.875,00</text>
<text x="1860" y="17.8" font-family="Liberation Sans" font-size="12.3" fill="#686868">35.000,00</text>
<path d="M1849.5 14.4 L1857 4.9 H1920 V23.9 H1857 Z" fill="#0c95e4"/>
<text x="1860" y="18.9" font-family="Liberation Sans" font-size="12.3" fill="#000">35.000,10</text>
<path d="M1849.5 192.6 L1857 183.1 H1920 V202.1 H1857 Z" fill="#f23c3a"/>
<text x="1860" y="197.1" font-family="Liberation Sans" font-size="12.3" fill="#000">34.299,12</text>
<path d="M1849.5 324.4 L1857 314.9 H1920 V333.9 H1857 Z" fill="#0c95e4"/>
<text x="1860" y="328.9" font-family="Liberation Sans" font-size="12.3" fill="#000">33.789,36</text>
<path d="M1849.5 377.0 L1857 367.5 H1920 V386.5 H1857 Z" fill="#d8a528"/>
<text x="1860" y="381.5" font-family="Liberation Sans" font-size="12.3" fill="#000">33.588,37</text>
<path d="M1849.5 436.9 L1857 427.4 H1920 V446.4 H1857 Z" fill="#f8ea0a"/>
<text x="1860" y="441.4" font-family="Liberation Sans" font-size="12.3" fill="#000">33.360,76</text>
<path d="M1849.5 583.2 L1857 573.7 H1920 V592.7 H1857 Z" fill="#0c95e4"/>
<text x="1860" y="587.7" font-family="Liberation Sans" font-size="12.3" fill="#000">32.810,82</text>
<path d="M1849.5 849.9 L1857 840.4 H1920 V859.4 H1857 Z" fill="#0c95e4"/>
<text x="1860" y="854.4" font-family="Liberation Sans" font-size="12.3" fill="#000">31.832,28</text>
<text x="109" y="878.6" font-family="Liberation Sans" font-weight="bold" font-size="28" fill="#9a9a9a" fill-opacity="0.75">stock3.com</text></svg>
<div class="row" style="top:5px;color:#e8453f"><span class="ic"><svg width="14" height="16" viewBox="0 0 14 16"><g stroke="#f04040" stroke-width="1" fill="none"><rect x="0.5" y="4.4" width="2" height="3.75"/><path d="M1.5 8.15V12.9"/><path d="M5.5 2.1V6.4"/><rect x="4.5" y="6.4" width="2" height="4"/><path d="M5.5 10.4V12.9"/><path d="M9.5 4.2V8.5"/><rect x="8.5" y="8.5" width="2" height="4"/></g></svg></span><span class="tx">Dow Jones (NYSE, Last)  O: 34.464,02  H: 34.588,68  L: 34.285,69  C: 34.299,12</span></div>
<div class="row" style="top:21px;color:#e6d80c"><span class="ic"><svg width="14" height="16" viewBox="0 0 14 16"><rect x="2.75" y="7" width="8.5" height="3.2" fill="#f2e20c"/></svg></span><span class="tx">SMA(100)  33.360,76</span></div>
<div class="row" style="top:37px;color:#e6d80c"><span class="ic"><svg width="14" height="16" viewBox="0 0 14 16"><rect x="2.75" y="7" width="8.5" height="3.2" fill="#f2e20c"/></svg></span><span class="tx">SMA(200)  32.808,81</span></div>
<div class="row" style="top:53px;color:#2a8ae6"><span class="ic"><svg width="14" height="16" viewBox="0 0 14 16"><rect x="2.75" y="7" width="8.5" height="3.2" fill="#2a8ff0"/></svg></span><span class="tx">EMA(200)  33.174,25</span></div>
<div class="row" style="top:69px;color:#2a8ae6"><span class="ic"><svg width="14" height="16" viewBox="0 0 14 16"><rect x="2.75" y="7" width="8.5" height="3.2" fill="#2a8ff0"/></svg></span><span class="tx">EMA(100)  33.356,53</span></div>
<div class="row" style="top:85px;color:#5c4f1f"><span class="ic"><svg width="14" height="16" viewBox="0 0 14 16"><rect x="2.75" y="7" width="8.5" height="3.2" fill="#6b5a1e"/><path d="M3 8.6H11" stroke="#8a4a1a" stroke-width="1" stroke-dasharray="1 1"/></svg></span><span class="tx">SMA(50)  33.593,57</span></div>
<div class="row" style="top:101px;color:#5e5e5e"><span class="ic"><svg width="14" height="16" viewBox="0 0 14 16"><rect x="2.75" y="7" width="8.5" height="3.2" fill="#6a6a6a"/></svg></span><span class="tx">BB(20, 2)  34.565,30  33.533,93  32.502,55</span></div>
<div class="row" style="top:117px;color:#e6e6e6"><span class="ic"><svg width="14" height="16" viewBox="0 0 14 16"><circle cx="6.5" cy="8.2" r="4.1" fill="none" stroke="#e6e6e6" stroke-width="1.3"/><circle cx="6.5" cy="8.2" r="2" fill="#e6e6e6"/></svg></span><span class="tx">Pivot-Punkte(M)  (35586.48,  34922.16,  33915.21,  33250.89,  32243.94,  31579.62,  30572.67)</span></div>
<div class="row" style="top:133px;color:#e6e6e6"><span class="ic"><svg width="14" height="16" viewBox="0 0 14 16"><circle cx="6.5" cy="8.2" r="4.1" fill="none" stroke="#e6e6e6" stroke-width="1.3"/><circle cx="6.5" cy="8.2" r="2" fill="#e6e6e6"/></svg></span><span class="tx">Pivot-Punkte(W)  (34677.13,  34326.23,  34101.50,  33750.60,  33525.87,  33174.97,  32950.24)</span></div>
<div class="row" style="top:149px;color:#e6e6e6"><span class="ic"><svg width="14" height="16" viewBox="0 0 14 16"><circle cx="6.5" cy="8.1" r="4.7" fill="none" stroke="#e6e6e6" stroke-width="1.3"/><path d="M6.5 5V8.3L8.6 10.2" fill="none" stroke="#e6e6e6" stroke-width="1.3"/></svg></span><span class="tx">27.02.2023 - 16.06.2023   (EDT, 4 Monate, 1 Tag)</span></div>
</div></body></html>
